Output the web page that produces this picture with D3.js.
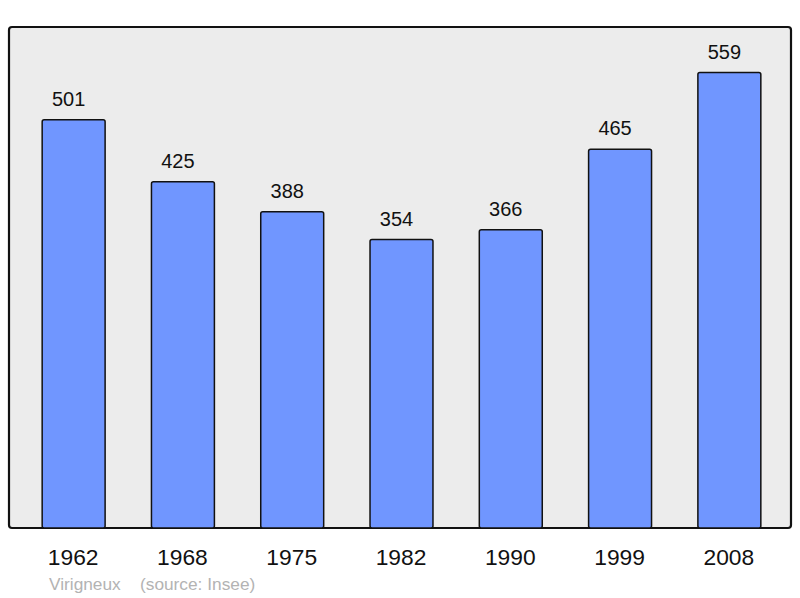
<!DOCTYPE html>
<html>
<head>
<meta charset="utf-8">
<script src="https://cdn.jsdelivr.net/npm/d3@7"></script>
<style>
  body { margin: 0; background: #fff; }
  text { font-family: "Liberation Sans", Arial, sans-serif; }
</style>
</head>
<body>
<svg id="chart" width="800" height="598"></svg>
<script>
// population by census year
const years = ["1962", "1968", "1975", "1982", "1990", "1999", "2008"];
const population = [501, 425, 388, 354, 366, 465, 559];
const commune = "Virigneux";
const source = "(source: Insee)";

const svg = d3.select("#chart");

// plot frame
const frame = { left: 9, top: 27, right: 791, bottom: 528 };

const x = d3.scaleBand()
    .domain(years)
    .range([19, 784])
    .paddingInner(0.424)
    .paddingOuter(0.212);

const y = d3.scaleLinear()
    .domain([0, d3.max(population) * 1.1])
    .range([frame.bottom, frame.top]);

svg.append("rect")
    .attr("x", frame.left)
    .attr("y", frame.top)
    .attr("width", frame.right - frame.left)
    .attr("height", frame.bottom - frame.top)
    .attr("rx", 3)
    .style("fill", "#ececec")
    .style("stroke", "#111")
    .style("stroke-width", 2.2);

const data = years.map((yr, i) => ({ year: yr, value: population[i] }));

svg.selectAll("rect.bar")
    .data(data)
    .enter()
        .append("rect")
        .attr("class", "bar")
        .attr("x", d => x(d.year))
        .attr("y", d => y(d.value))
        .attr("width", x.bandwidth())
        .attr("height", d => frame.bottom - y(d.value))
        .attr("rx", 2)
        .style("fill", "#7096ff")
        .style("stroke", "#111")
        .style("stroke-width", 1.5);

// value labels above bars (sit a little left of the bar centre)
svg.selectAll("text.val")
    .data(data)
    .enter()
        .append("text")
        .attr("class", "val")
        .attr("x", d => x(d.year) + x.bandwidth() / 2 - 5)
        .attr("y", d => y(d.value) - 14)
        .attr("text-anchor", "middle")
        .style("font-size", "20px")
        .style("fill", "#111")
        .text(d => d.value);

// year labels
svg.selectAll("text.year")
    .data(data)
    .enter()
        .append("text")
        .attr("class", "year")
        .attr("x", d => x(d.year) + x.bandwidth() / 2 - 0.5)
        .attr("y", 565)
        .attr("text-anchor", "middle")
        .style("font-size", "22.8px")
        .style("fill", "#111")
        .text(d => d.year);

svg.append("text")
    .attr("x", 49)
    .attr("y", 590)
    .style("font-size", "17.3px")
    .style("fill", "#b3b3b3")
    .text(commune);

svg.append("text")
    .attr("x", 140)
    .attr("y", 590)
    .style("font-size", "17.3px")
    .style("fill", "#b3b3b3")
    .text(source);
</script>
</body>
</html>
